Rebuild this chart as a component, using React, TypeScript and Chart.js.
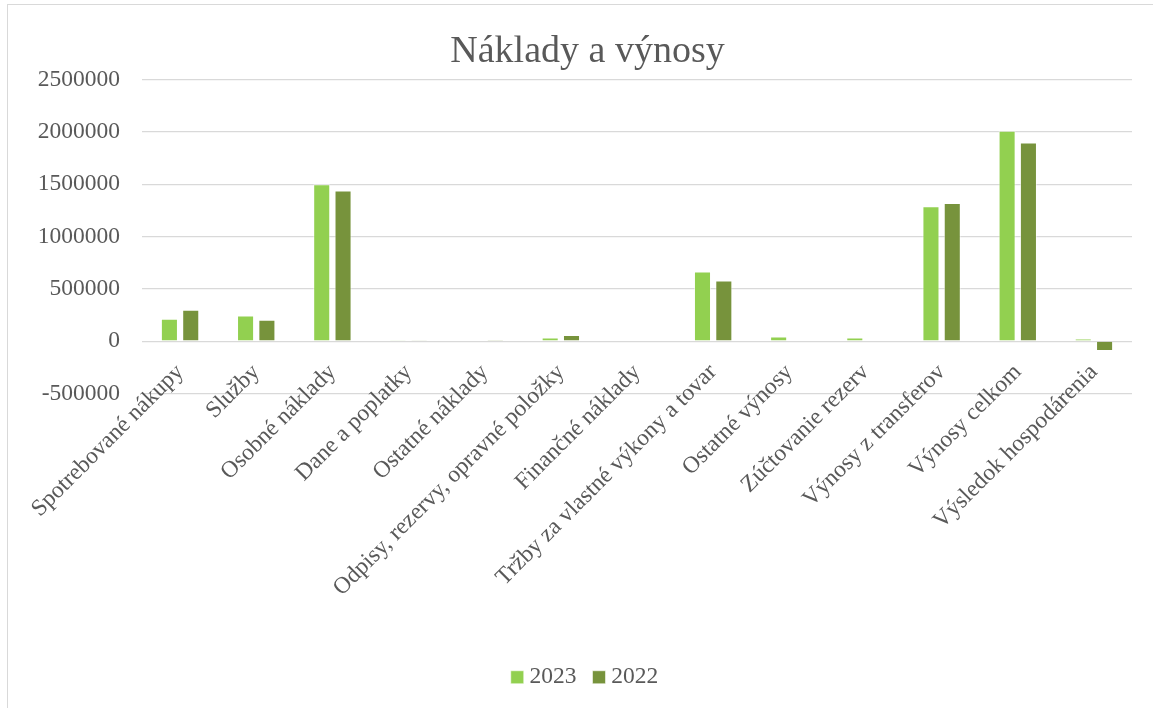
import React, { useEffect, useRef } from "react";
import { Chart, registerables } from "chart.js";

Chart.register(...registerables);

const categories = [
  "Spotrebované nákupy",
  "Služby",
  "Osobné náklady",
  "Dane a poplatky",
  "Ostatné náklady",
  "Odpisy, rezervy, opravné položky",
  "Finančné náklady",
  "Tržby za vlastné výkony a tovar",
  "Ostatné výnosy",
  "Zúčtovanie rezerv",
  "Výnosy z transferov",
  "Výnosy celkom",
  "Výsledok hospodárenia",
];

const values2023 = [215000, 245000, 1500000, 3000, 0, 35000, 0, 665000, 45000, 35000, 1290000, 2010000, 25000];
const values2022 = [300000, 205000, 1440000, 3000, 2000, 60000, 0, 580000, 5000, 0, 1320000, 1900000, -95000];

const yMin = -500000;
const yMax = 2500000;
const yStep = 500000;

const FONT = "'Liberation Serif', 'Times New Roman', serif";
const TEXT = "#595959";

// Let tick labels extend beyond their scale box (category labels hang from the zero line)
const unclipLabels = {
  id: "unclipLabels",
  beforeDraw(chart: any) {
    Object.values(chart.scales).forEach((s: any) => {
      s._computeLabelArea = () => undefined;
    });
  },
};

export default function App() {
  const ref = useRef<HTMLCanvasElement | null>(null);

  useEffect(() => {
    if (!ref.current) return;
    const chart = new Chart(ref.current, {
      type: "bar",
      data: {
        labels: categories,
        datasets: [
          {
            label: "2023",
            data: values2023,
            backgroundColor: "#92D050",
            borderColor: "rgba(255,255,255,0.55)",
            borderWidth: 1,
            categoryPercentage: 0.56,
            barPercentage: 0.8,
          },
          {
            label: "2022",
            data: values2022,
            backgroundColor: "#77933C",
            borderColor: "rgba(255,255,255,0.55)",
            borderWidth: 1,
            categoryPercentage: 0.56,
            barPercentage: 0.8,
          },
        ],
      },
      plugins: [unclipLabels],
      options: {
        animation: false,
        responsive: false,
        layout: { padding: { left: 43, right: 30, top: 0, bottom: 9 } },
        plugins: {
          title: {
            display: true,
            text: "Náklady a výnosy",
            color: TEXT,
            font: { family: FONT, size: 38, weight: "normal" },
            padding: { top: 29, bottom: 5 },
          },
          legend: {
            position: "bottom",
            labels: {
              color: TEXT,
              font: { family: FONT, size: 23.5 },
              usePointStyle: true,
              pointStyle: "rect",
              boxWidth: 1,
              boxHeight: 13,
              padding: 22,
            },
          },
          tooltip: { enabled: false },
        },
        scales: {
          x: {
            grid: { display: false },
            border: { display: false },
            ticks: {
              color: TEXT,
              font: { family: FONT, size: 23.5 },
              maxRotation: 45,
              minRotation: 45,
              autoSkip: false,
              padding: -43,
            },
            afterFit: (scale: any) => {
              scale.height = 250;
            },
          },
          y: {
            min: yMin,
            max: yMax,
            grid: { color: "#d9d9d9", lineWidth: 1.3, drawTicks: false },
            border: { display: false },
            ticks: {
              stepSize: yStep,
              color: TEXT,
              font: { family: FONT, size: 23.5 },
              padding: 22,
              callback: (v: any) => String(v),
            },
            afterFit: (scale: any) => {
              scale.width = 99;
            },
          },
        },
      },
    });
    return () => chart.destroy();
  }, []);

  return (
    <div style={{ position: "fixed", left: 0, top: 0, width: 1153, height: 708, overflow: "hidden", background: "#fff" }}>
      <div
        style={{
          position: "absolute",
          left: 7,
          top: 4,
          width: 1170,
          height: 720,
          border: "1.5px solid #d9d9d9",
          boxSizing: "border-box",
        }}
      />
      <canvas ref={ref} width={1162} height={708} style={{ position: "absolute", left: 0, top: 0 }} />
    </div>
  );
}
